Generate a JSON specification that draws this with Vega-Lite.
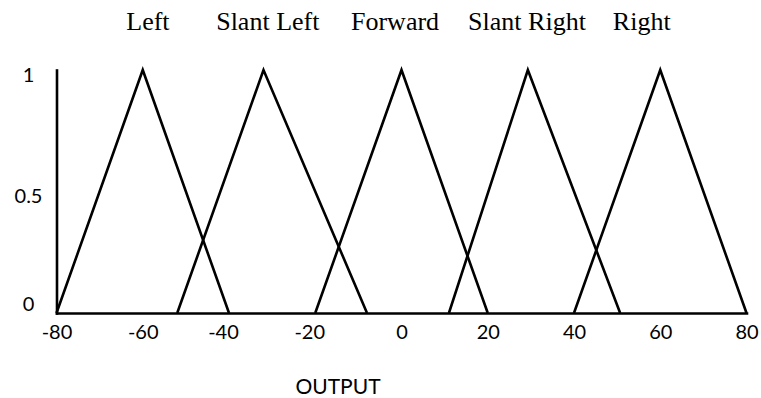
{
  "$schema": "https://vega.github.io/schema/vega-lite/v6.json",
  "width": 690,
  "height": 243,
  "autosize": {"type": "none"},
  "padding": {"left": 56.5, "top": 70, "right": 14.5, "bottom": 85},
  "background": "white",
  "config": {"view": {"stroke": null}},
  "layer": [
    {
      "data": {
        "values": [
          {"set": "Left", "i": 0, "x": -80, "y": 0},
          {"set": "Left", "i": 1, "x": -60, "y": 1},
          {"set": "Left", "i": 2, "x": -40, "y": 0},
          {"set": "Slant Left", "i": 0, "x": -52, "y": 0},
          {"set": "Slant Left", "i": 1, "x": -32, "y": 1},
          {"set": "Slant Left", "i": 2, "x": -8, "y": 0},
          {"set": "Forward", "i": 0, "x": -20, "y": 0},
          {"set": "Forward", "i": 1, "x": 0, "y": 1},
          {"set": "Forward", "i": 2, "x": 20, "y": 0},
          {"set": "Slant Right", "i": 0, "x": 11, "y": 0},
          {"set": "Slant Right", "i": 1, "x": 29.3, "y": 1},
          {"set": "Slant Right", "i": 2, "x": 50.7, "y": 0},
          {"set": "Right", "i": 0, "x": 40, "y": 0},
          {"set": "Right", "i": 1, "x": 60, "y": 1},
          {"set": "Right", "i": 2, "x": 80, "y": 0}
        ]
      },
      "mark": {"type": "line", "color": "black", "strokeWidth": 2.6, "strokeJoin": "miter"},
      "encoding": {
        "x": {
          "field": "x",
          "type": "quantitative",
          "scale": {"domain": [-80, 80], "nice": false, "zero": false},
          "axis": {
            "title": "OUTPUT",
            "values": [-80, -60, -40, -20, 0, 20, 40, 60, 80],
            "labelExpr": "toString(datum.value)",
            "ticks": false,
            "tickSize": 0,
            "grid": false,
            "domainColor": "black",
            "domainWidth": 2.6,
            "domainCap": "square",
            "labelFont": "Lato",
            "labelFontSize": 20,
            "labelColor": "black",
            "labelPadding": 25,
            "labelBaseline": "alphabetic",
            "labelOffset": {"condition": {"test": "datum.value === -40 || datum.value === -20", "value": -6}, "value": 0},
            "labelFlush": false,
            "labelOverlap": false,
            "titleFont": "Lato",
            "titleFontSize": 21,
            "titleFontWeight": "normal",
            "titleColor": "black",
            "titleX": 281,
            "titleY": 80,
            "titleBaseline": "alphabetic",
            "titleAlign": "center"
          }
        },
        "y": {
          "field": "y",
          "type": "quantitative",
          "scale": {"domain": [0, 1], "nice": false},
          "axis": {
            "title": null,
            "values": [0, 0.5, 1],
            "labelExpr": "toString(datum.value)",
            "ticks": false,
            "tickSize": 0,
            "grid": false,
            "domainColor": "black",
            "domainWidth": 2.6,
            "domainCap": "square",
            "labelFont": "Lato",
            "labelFontSize": 20,
            "labelColor": "black",
            "labelAlign": "center",
            "labelPadding": 28.5,
            "labelBaseline": "alphabetic",
            "labelOffset": {"condition": {"test": "datum.value === 0", "value": -3}, "value": 11.3},
            "labelFlush": false,
            "labelOverlap": false
          }
        },
        "detail": {"field": "set"},
        "order": {"field": "i"}
      }
    },
    {
      "data": {
        "values": [
          {"label": "Left", "x": -58.8, "y": 1.165},
          {"label": "Slant Left", "x": -31.0, "y": 1.165},
          {"label": "Forward", "x": -1.5, "y": 1.165},
          {"label": "Slant Right", "x": 29.1, "y": 1.165},
          {"label": "Right", "x": 55.7, "y": 1.165}
        ]
      },
      "mark": {"type": "text", "font": "Liberation Serif", "fontSize": 26, "baseline": "alphabetic", "align": "center", "color": "black"},
      "encoding": {
        "x": {"field": "x", "type": "quantitative"},
        "y": {"field": "y", "type": "quantitative"},
        "text": {"field": "label"}
      }
    }
  ]
}
